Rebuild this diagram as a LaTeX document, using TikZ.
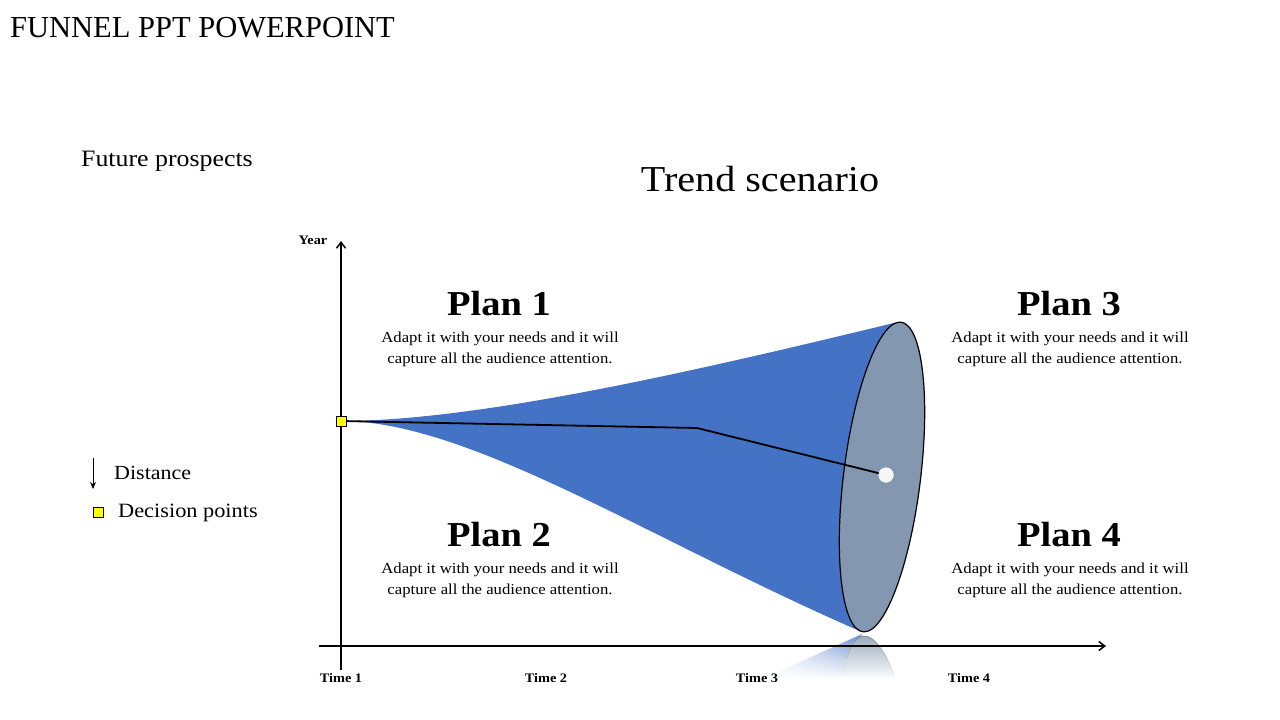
\documentclass[tikz,border=0pt]{standalone}
\usepackage{fontspec}
\setmainfont{Liberation Serif}
\newfontfamily\widefont{Liberation Serif}[FakeStretch=1.1]
\usetikzlibrary{arrows.meta,fadings}
\definecolor{funblue}{HTML}{4472C4}
\definecolor{ellgrey}{HTML}{8497B0}
\definecolor{decyellow}{HTML}{FFFF00}
\tikzfading[name=whitein, top color=transparent!100, bottom color=transparent!0]
\tikzset{
  axis/.style={line width=1.5pt,-{Straight Barb[length=6pt,width=9pt]}},
  plantitle/.style={font=\widefont\fontsize{35}{40}\selectfont\bfseries,anchor=base},
  plantext/.style={font=\widefont\fontsize{15.2}{21.5}\selectfont,align=center,anchor=north},
  timelbl/.style={font=\widefont\fontsize{13}{14}\selectfont\bfseries,anchor=base},
  decbox/.style={draw=black,fill=decyellow,line width=0.8pt,minimum size=10pt,inner sep=0pt},
  funend/.style={x radius=38.5, y radius=156, rotate=-7},
  funrefl/.style={x radius=38.5, y radius=156, rotate=7},
}
\begin{document}
\begin{tikzpicture}[x=1pt,y=-1pt]
\useasboundingbox (0,0) rectangle (1280,720);
% titles
\node[anchor=base west,font=\fontsize{30.5}{36}\selectfont,inner sep=0] (title) at (10,37) {FUNNEL PPT POWERPOINT};
\node[anchor=base west,font=\widefont\fontsize{23.5}{26}\selectfont,inner sep=0] (future) at (81,166) {Future prospects};
\node[anchor=base,font=\widefont\fontsize{36.5}{40}\selectfont,inner sep=0] (trend) at (760,191) {Trend scenario};
% reflection
\begin{scope}
\clip (700,633) rectangle (960,680);
\shade[left color=white,right color=funblue!85] (862,634) -- (845,660) -- (850,680) -- (760,680) -- cycle;
\fill[ellgrey!85] (882,791) ellipse [funrefl];
\draw[gray,line width=0.9pt] (882,791) ellipse [funrefl];
\end{scope}
\fill[white,path fading=whitein] (740,633) rectangle (960,679);
\fill[white] (740,678) rectangle (960,690);
% funnel
\fill[funblue] (341,421) .. controls (480,421) and (700,370) .. (898,322)
  -- (862,632) .. controls (650,540) and (470,421) .. (341,421) -- cycle;
\draw[fill=ellgrey,line width=1.2pt] (882,477) ellipse [funend];
% axes
\coordinate (yb) at (341,670);
\coordinate (yt) at (341,241);
\coordinate (xl) at (319,646);
\coordinate (xr) at (1106,646);
\draw[axis] (yb) -- (yt);
\draw[axis] (xl) -- (xr);
\node[anchor=base,font=\widefont\fontsize{13}{14}\selectfont\bfseries] (year) at (313,244) {Year};
% path line
\node[circle,fill=white!94!gray,minimum size=15pt,inner sep=0] (dot) at (886,475) {};
\coordinate (bend) at (697,428);
\node[decbox] (start) at (341,421) {};
\draw[line width=1.8pt] (start.center) -- (bend) -- (dot.center);
\node[circle,fill=white!94!gray,minimum size=15pt,inner sep=0] at (886,475) {};
\node[decbox] at (341,421) {};
% plans
\node[plantitle] (p1) at (499,315) {Plan 1};
\node[plantext] (t1) at (500,328) {Adapt it with your needs and it will\\capture all the audience attention.};
\node[plantitle] (p3) at (1069,315) {Plan 3};
\node[plantext] (t3) at (1070,328) {Adapt it with your needs and it will\\capture all the audience attention.};
\node[plantitle] (p2) at (499,546) {Plan 2};
\node[plantext] (t2) at (500,559) {Adapt it with your needs and it will\\capture all the audience attention.};
\node[plantitle] (p4) at (1069,546) {Plan 4};
\node[plantext] (t4) at (1070,559) {Adapt it with your needs and it will\\capture all the audience attention.};
% time labels
\node[timelbl] (tm1) at (341,682) {Time 1};
\node[timelbl] (tm2) at (546,682) {Time 2};
\node[timelbl] (tm3) at (757,682) {Time 3};
\node[timelbl] (tm4) at (969,682) {Time 4};
% legend
\coordinate (la) at (93,458);
\coordinate (lb) at (93,489);
\draw[line width=1pt,-{Stealth[length=7pt,width=6pt]}] (la) -- (lb);
\node[anchor=base west,font=\widefont\fontsize{20}{24}\selectfont,inner sep=0] (dist) at (114,479) {Distance};
\node[decbox] (lbox) at (98,512) {};
\node[anchor=base west,font=\widefont\fontsize{20.3}{24}\selectfont,inner sep=0] (dec) at (118,517) {Decision points};
\end{tikzpicture}
\end{document}
